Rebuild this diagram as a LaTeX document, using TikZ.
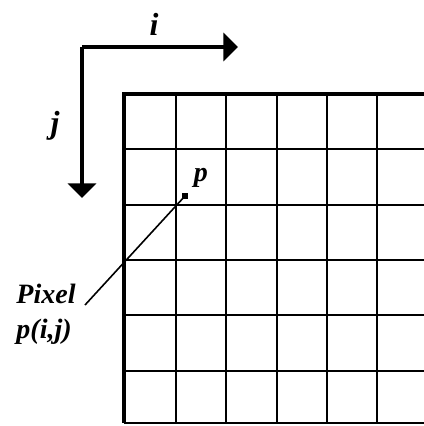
\documentclass[tikz,border=0pt]{standalone}
\usepackage{fontspec}
\setmainfont{Liberation Serif}
\usetikzlibrary{arrows.meta}

\begin{document}
\begin{tikzpicture}[
    x=0.75pt, y=-0.75pt,
    gridline/.style={draw=black, line width=1.3pt},
    border/.style={draw=black, line width=2.6pt},
    axis/.style={-{Triangle[length=11pt, width=21pt]}, line width=3pt},
    axislabel/.style={font=\fontsize{24}{28}\selectfont\bfseries\itshape},
    txtlabel/.style={font=\fontsize{21}{26}\selectfont\bfseries\itshape,
                     align=left, inner sep=0pt},
    pixbox/.style={rectangle, fill=black, minimum size=5pt, inner sep=0pt},
    leader/.style={draw=black, line width=1.2pt}
]
    \useasboundingbox (0,0) rectangle (424,426);

    % grid lines
    \foreach \gx in {176,226,277,327,377}
        \draw[gridline] (\gx,94) -- (\gx,423);
    \foreach \gy in {149,205,260,315,371,423}
        \draw[gridline] (124,\gy) -- (424,\gy);

    % thick borders, left and top
    \draw[border] (124,423) -- (124,94) -- (424,94);

    % axes
    \coordinate (orig) at (82,47);
    \coordinate (iend) at (238,47);
    \coordinate (jend) at (82,198);
    \draw[axis] (orig) -- (iend);
    \draw[axis] (orig) -- (jend);
    \node[axislabel] (ilab) at (154,24) {i};
    \node[axislabel] (jlab) at (55,126) {j};

    % the pixel
    \node[pixbox] (pix) at (185,196) {};
    \node[txtlabel] (plab) at (201,178) {p};

    % pixel label with leader line
    \node[txtlabel] (pixlab) at (46,314) {Pixel\\p(i,j)};
    \coordinate (lead) at (85,305);
    \draw[leader] (pix.center) -- (lead);

\end{tikzpicture}
\end{document}
